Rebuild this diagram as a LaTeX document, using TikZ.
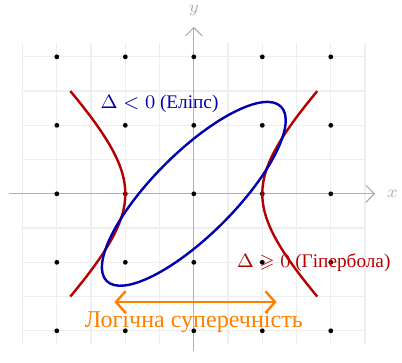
\documentclass[tikz,border=0pt]{standalone}
\usepackage{amssymb}
\usepackage[no-math]{fontspec}
\newfontfamily\cyrfont{Liberation Serif}
\usetikzlibrary{arrows.meta}
\definecolor{hypred}{RGB}{180,0,0}
\definecolor{ellblue}{RGB}{0,0,175}
\definecolor{logorange}{RGB}{255,128,0}
\definecolor{gridgray}{RGB}{238,238,238}
\definecolor{axisgray}{RGB}{175,175,175}
\tikzset{
  gridline/.style={gridgray, line width=0.5pt},
  axisline/.style={axisgray, line width=0.5pt, -{Straight Barb[length=3.5pt,width=7pt]}},
  axislabel/.style={text=axisgray, font=\scriptsize, inner sep=1pt},
  dotpt/.style={circle, fill=black, inner sep=0pt, minimum size=2pt},
  curvehyp/.style={hypred, line width=1pt},
  curveell/.style={ellblue, line width=1pt},
  lbl/.style={font=\footnotesize\cyrfont},
}
\begin{document}
\begin{tikzpicture}
\useasboundingbox (-2.83,-2.47) rectangle (3.04,2.83);
\draw[gridline] (-2.5,-2.2) grid[step=0.5] (2.5,2.2);
\coordinate (xs) at (-2.7,0);
\coordinate (xe) at (2.65,0);
\coordinate (ys) at (0,-2.3);
\coordinate (ye) at (0,2.44);
\draw[axisline] (xs) -- (xe);
\draw[axisline] (ys) -- (ye);
\node[axislabel] (xl) at (2.9,0) {$x$};
\node[axislabel] (yl) at (0,2.68) {$y$};
\foreach \i in {-2,...,2}
  \foreach \j in {-2,...,2}
    \node[dotpt] (d\i\j) at (\i,\j) {};
\draw[curvehyp] plot[domain=-1.5:1.5, samples=60, smooth] ({sqrt(1+\x*\x)},\x);
\draw[curvehyp] plot[domain=-1.5:1.5, samples=60, smooth] ({-sqrt(1+\x*\x)},\x);
\draw[curveell, rotate=45] (0,0) ellipse[x radius=1.8, y radius=0.6];
\node[lbl, text=ellblue] (el) at (-0.5,1.31) {$\Delta<0$ (Еліпс)};
\node[lbl, text=hypred] (hl) at (1.75,-1.0) {$\Delta\geqslant0$ (Гіпербола)};
\coordinate (al) at (-1.16,-1.58);
\coordinate (ar) at (1.21,-1.58);
\draw[logorange, line width=1pt, {Straight Barb[length=4pt,width=9pt]}-{Straight Barb[length=4pt,width=9pt]}] (al) -- (ar);
\node[text=logorange, font=\cyrfont] (lc) at (0,-1.88) {Логічна суперечність};
\end{tikzpicture}
\end{document}
